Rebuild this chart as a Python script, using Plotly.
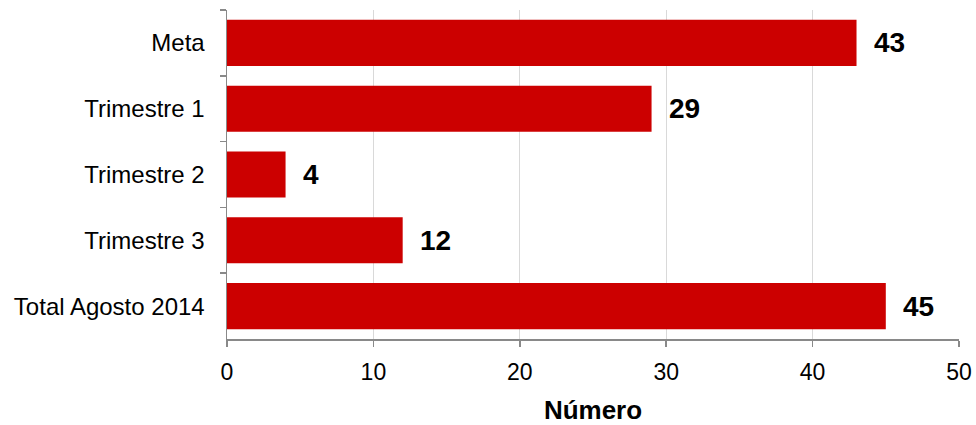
import plotly.graph_objects as go

categories = ["Meta", "Trimestre 1", "Trimestre 2", "Trimestre 3", "Total Agosto 2014"]
values = [43, 29, 4, 12, 45]
x_ticks = [0, 10, 20, 30, 40, 50]

FONT = "Liberation Sans, Arial, sans-serif"

fig = go.Figure()
fig.add_trace(go.Bar(
    y=categories, x=values, orientation="h",
    marker=dict(color="#CC0000", line=dict(width=0)),
    hoverinfo="skip",
))

for c, v in zip(categories, values):
    fig.add_annotation(
        x=v, y=c, text="<b>%d</b>" % v, showarrow=False,
        xanchor="left", yanchor="middle", xshift=15,
        font=dict(family=FONT, size=28, color="black"),
    )

fig.update_layout(
    width=976, height=425,
    margin=dict(l=227, r=17, t=10, b=86),
    paper_bgcolor="white", plot_bgcolor="white",
    bargap=0.3, showlegend=False,
    font=dict(family=FONT, color="black"),
)
fig.update_xaxes(
    range=[0, 50], tickvals=x_ticks, ticktext=[str(t) for t in x_ticks],
    showgrid=True, gridcolor="#d9d9d9", gridwidth=1,
    showline=True, linecolor="#898989", linewidth=1.5,
    ticks="outside", ticklen=6, tickcolor="#898989", tickwidth=1.5,
    zeroline=False, automargin=False,
    tickfont=dict(family=FONT, size=23, color="black"),
    ticklabelstandoff=6,
    title=dict(text="<b>Número</b>", font=dict(family=FONT, size=26, color="black"), standoff=20),
)
fig.update_yaxes(
    autorange="reversed", type="category",
    showgrid=False, showline=True, linecolor="#898989", linewidth=1.5,
    ticks="outside", ticklen=6, tickcolor="#898989", tickwidth=1.5,
    tickson="boundaries", automargin=False,
    tickfont=dict(family=FONT, size=24, color="black"),
    ticklabelstandoff=16,
)

fig.write_html(
    "out.html",
    config={"displayModeBar": False, "staticPlot": True},
    post_script=(
        "document.body.style.margin='0';"
        "document.body.style.overflow='hidden';"
        "document.documentElement.style.overflow='hidden';"
    ),
)
